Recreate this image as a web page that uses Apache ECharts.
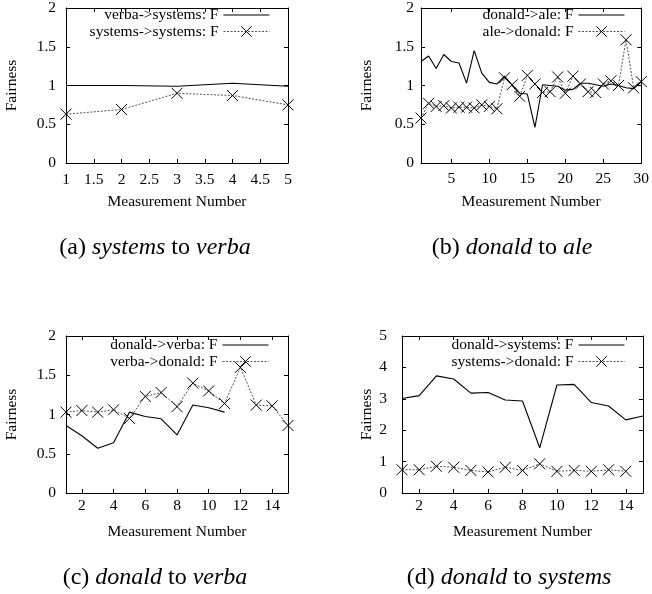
<!DOCTYPE html>
<html>
<head>
<meta charset="utf-8">
<script src="https://cdn.jsdelivr.net/npm/echarts@6/dist/echarts.min.js"></script>
<style>
html,body{margin:0;padding:0;background:#fff;}
#chart{width:652px;height:594px;}
</style>
</head>
<body>
<div id="chart"></div>
<script>
// ---- data ----
const xA = [1, 2, 3, 4, 5];
const aVerbaSystems = [1.0, 1.0, 0.99, 1.03, 0.99];
const aSystemsSystems = [0.63, 0.69, 0.90, 0.87, 0.75];

const xB = [1,2,3,4,5,6,7,8,9,10,11,12,13,14,15,16,17,18,19,20,21,22,23,24,25,26,27,28,29,30];
const bDonaldAle = [1.31,1.38,1.22,1.40,1.31,1.29,1.03,1.45,1.16,1.04,1.02,1.12,1.00,0.90,0.89,0.46,1.01,1.00,0.99,0.94,0.95,1.03,1.03,1.01,0.99,1.02,1.00,0.97,0.96,1.05];
const bAleDonald = [0.58,0.77,0.73,0.74,0.71,0.72,0.72,0.71,0.75,0.73,0.70,1.10,1.01,0.86,1.13,1.02,0.91,0.92,1.11,0.90,1.12,1.02,0.92,0.91,1.02,1.06,1.00,1.59,0.97,1.05];

const xC = [1,2,3,4,5,6,7,8,9,10,11,12,13,14,15];
const cDonaldVerba = [0.86,0.73,0.57,0.64,1.03,0.975,0.945,0.74,1.12,1.085,1.03];
const cVerbaDonald = [1.03,1.05,1.03,1.06,0.95,1.23,1.28,1.10,1.40,1.30,1.14,1.60,1.12,1.11,0.86];

const xD = [1,2,3,4,5,6,7,8,9,10,11,12,13,14,15];
const dDonaldSystems = [3.01,3.10,3.73,3.63,3.18,3.20,2.96,2.93,1.44,3.44,3.46,2.88,2.77,2.33,2.45];
const dSystemsDonald = [0.74,0.74,0.85,0.82,0.72,0.67,0.82,0.72,0.93,0.69,0.72,0.69,0.74,0.69];

const ticksA = [1, 1.5, 2, 2.5, 3, 3.5, 4, 4.5, 5];
const ticksB = [5, 10, 15, 20, 25, 30];
const ticksCD = [2, 4, 6, 8, 10, 12, 14];

const namesA = ['verba->systems: F', 'systems->systems: F'];
const namesB = ['donald->ale: F', 'ale->donald: F'];
const namesC = ['donald->verba: F', 'verba->donald: F'];
const namesD = ['donald->systems: F', 'systems->donald: F'];

// ---- styling / layout ----
const FF = 'Liberation Serif';
const FS = 15.5;
const X_SYMBOL = 'path://M0,0L10,10M10,0L0,10';
const DOT_LINE = {color: '#555', width: 1, type: [2, 1.5]};
const X_STYLE = {color: 'rgba(0,0,0,0)', borderColor: '#000', borderWidth: 1};

function pairs(xs, ys) { return ys.map((y, i) => [xs[i], y]); }

const panels = [
  { grid: {left: 66, top: 5, width: 222, height: 158}, xmin: 1, xmax: 5, xticks: ticksA,
    ymax: 2, yint: 0.5, ylabMargin: 10, yNameGap: 46, xlabMargin: 9,
    names: namesA, xs: xA, solid: aVerbaSystems, dotted: aSystemsSystems, legRight: 382, legTop: 7 },
  { grid: {left: 421, top: 5, width: 222, height: 158}, xmin: 1, xmax: 30, xticks: ticksB,
    ymax: 2, yint: 0.5, ylabMargin: 7, yNameGap: 46, xlabMargin: 8,
    names: namesB, xs: xB, solid: bDonaldAle, dotted: bAleDonald, legRight: 27, legTop: 7 },
  { grid: {left: 66, top: 336, width: 222, height: 157}, xmin: 1, xmax: 15, xticks: ticksCD,
    ymax: 2, yint: 0.5, ylabMargin: 10, yNameGap: 46, xlabMargin: 5,
    names: namesC, xs: xC, solid: cDonaldVerba, dotted: cVerbaDonald, legRight: 383, legTop: 337 },
  { grid: {left: 402, top: 336, width: 241, height: 157}, xmin: 1, xmax: 15, xticks: ticksCD,
    ymax: 5, yint: 1, ylabMargin: 15, yNameGap: 27, xlabMargin: 5,
    names: namesD, xs: xD, solid: dDonaldSystems, dotted: dSystemsDonald, legRight: 27, legTop: 337 }
];

const axisLine = {show: true, onZero: false, lineStyle: {color: '#000', width: 1}};
const txt = {fontFamily: FF, fontSize: FS, color: '#000'};

const grid = [], xAxis = [], yAxis = [], series = [], legend = [];
panels.forEach((p, i) => {
  grid.push(Object.assign({containLabel: false}, p.grid));
  xAxis.push({
    type: 'value', gridIndex: i, position: 'bottom', min: p.xmin, max: p.xmax,
    axisLine: axisLine,
    axisTick: {show: true, inside: true, length: 4, customValues: p.xticks, lineStyle: {color: '#000'}},
    axisLabel: Object.assign({show: true, margin: p.xlabMargin, customValues: p.xticks,
      showMinLabel: true, showMaxLabel: true}, txt),
    splitLine: {show: false},
    name: 'Measurement Number', nameLocation: 'middle', nameGap: 31, nameTextStyle: txt
  });
  xAxis.push({
    type: 'value', gridIndex: i, position: 'top', min: p.xmin, max: p.xmax,
    axisLine: axisLine,
    axisTick: {show: true, inside: true, length: 4, customValues: p.xticks, lineStyle: {color: '#000'}},
    axisLabel: {show: false},
    splitLine: {show: false}
  });
  yAxis.push({
    type: 'value', gridIndex: i, position: 'left', min: 0, max: p.ymax, interval: p.yint,
    axisLine: axisLine,
    axisTick: {show: true, inside: true, length: 4, lineStyle: {color: '#000'}},
    axisLabel: Object.assign({show: true, margin: p.ylabMargin, showMinLabel: true, showMaxLabel: true}, txt),
    splitLine: {show: false},
    name: 'Fairness', nameLocation: 'middle', nameRotate: 90, nameGap: p.yNameGap, nameTextStyle: txt
  });
  yAxis.push({
    type: 'value', gridIndex: i, position: 'right', min: 0, max: p.ymax, interval: p.yint,
    axisLine: axisLine,
    axisTick: {show: true, inside: true, length: 4, lineStyle: {color: '#000'}},
    axisLabel: {show: false},
    splitLine: {show: false}
  });
  series.push({
    type: 'line', name: p.names[0], xAxisIndex: 2 * i, yAxisIndex: 2 * i,
    data: pairs(p.xs, p.solid), symbol: 'none', showSymbol: false,
    lineStyle: {color: '#000', width: 1.1, type: 'solid'},
    itemStyle: {color: '#000'},
    animation: false, z: 3
  });
  series.push({
    type: 'line', name: p.names[1], xAxisIndex: 2 * i, yAxisIndex: 2 * i,
    data: pairs(p.xs, p.dotted), symbol: X_SYMBOL, symbolSize: 11, showSymbol: true, showAllSymbol: true,
    lineStyle: DOT_LINE,
    itemStyle: X_STYLE,
    animation: false, z: 2
  });
  p.names.forEach((nm, k) => {
    const item = k === 0
      ? {name: nm, itemStyle: {color: 'rgba(0,0,0,0)', borderColor: 'rgba(0,0,0,0)', borderWidth: 0, opacity: 0},
         lineStyle: {color: '#000', width: 1.1, type: 'solid'}}
      : {name: nm, itemStyle: X_STYLE, lineStyle: DOT_LINE};
    legend.push({
      data: [item], right: p.legRight, top: p.legTop + k * 16.5, orient: 'horizontal', align: 'right',
      itemWidth: 46, itemHeight: 13, itemGap: 0, padding: 0, selectedMode: false,
      textStyle: Object.assign({padding: [0, 0, 0, 0]}, txt)
    });
  });
});

const capRich = {i: {fontFamily: FF, fontSize: 24, fontStyle: 'italic', fill: '#000'}};
function caption(text, x, y) {
  return {
    type: 'text', x: x, y: y,
    style: {text: text, fontFamily: FF, fontSize: 24, fill: '#000',
      textAlign: 'center', textVerticalAlign: 'middle', rich: capRich}
  };
}

const option = {
  animation: false,
  backgroundColor: '#fff',
  grid: grid, xAxis: xAxis, yAxis: yAxis, series: series, legend: legend,
  graphic: [
    caption('(a) {i|systems} to {i|verba}', 155, 248),
    caption('(b) {i|donald} to {i|ale}', 512, 248),
    caption('(c) {i|donald} to {i|verba}', 155, 578),
    caption('(d) {i|donald} to {i|systems}', 509, 578)
  ]
};

const chart = echarts.init(document.getElementById('chart'), null, {renderer: 'canvas'});
chart.setOption(option);
</script>
</body>
</html>
